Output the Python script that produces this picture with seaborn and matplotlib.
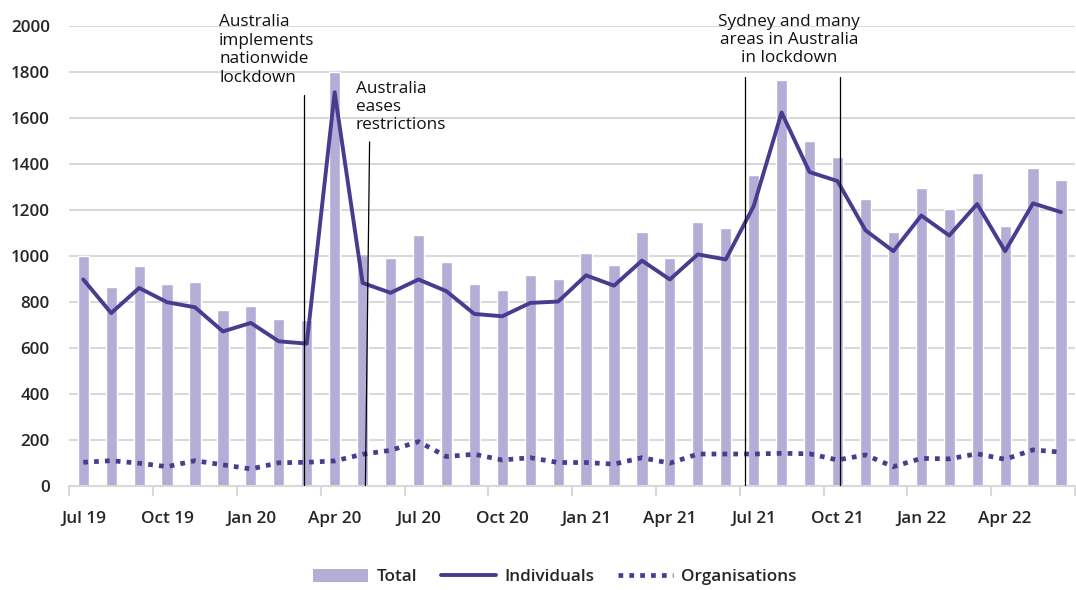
import numpy as np
import pandas as pd
import seaborn as sns
import matplotlib.pyplot as plt
from matplotlib.patches import Patch
from matplotlib.lines import Line2D

months = ["Jul 19", "Aug 19", "Sep 19", "Oct 19", "Nov 19", "Dec 19",
          "Jan 20", "Feb 20", "Mar 20", "Apr 20", "May 20", "Jun 20",
          "Jul 20", "Aug 20", "Sep 20", "Oct 20", "Nov 20", "Dec 20",
          "Jan 21", "Feb 21", "Mar 21", "Apr 21", "May 21", "Jun 21",
          "Jul 21", "Aug 21", "Sep 21", "Oct 21", "Nov 21", "Dec 21",
          "Jan 22", "Feb 22", "Mar 22", "Apr 22", "May 22", "Jun 22"]
total = [1000, 866, 956, 879, 887, 764, 781, 726, 720, 1798, 1010, 990,
         1092, 976, 880, 854, 918, 900, 1015, 962, 1104, 990, 1146, 1120,
         1352, 1766, 1499, 1432, 1246, 1104, 1294, 1206, 1363, 1129, 1383, 1329]
individuals = [898, 752, 861, 799, 777, 672, 709, 629, 619, 1712, 883, 840,
               898, 847, 748, 738, 796, 802, 916, 871, 980, 898, 1007, 985,
               1217, 1624, 1365, 1326, 1112, 1021, 1176, 1089, 1226, 1021, 1229, 1191]
organisations = [103, 110, 99, 84, 110, 92, 74, 101, 103, 109, 138, 155,
                 193, 128, 138, 113, 123, 102, 102, 95, 123, 99, 139, 139,
                 139, 142, 140, 113, 135, 84, 120, 118, 140, 116, 157, 147]

# events: (label, x of line bottom, x of line top, line top y)
events = [
    ("Australia\nimplements\nnationwide\nlockdown", 7.90, 7.90, 1700),
    ("Australia\neases\nrestrictions", 10.10, 10.25, 1496),
    ("", 23.69, 23.69, 1778),
    ("Sydney and many\nareas in Australia\nin lockdown", 27.08, 27.08, 1778),
]

bar_color = "#b4aed6"
line_color = "#4b3b8f"
dots = (0, (1, 1.3))

df = pd.DataFrame({"idx": np.arange(len(months)), "month": months,
                   "Total": total, "Individuals": individuals,
                   "Organisations": organisations})

sns.set_style("white")
plt.rcParams["font.family"] = ["Open Sans", "DejaVu Sans"]

fig = plt.figure(figsize=(10.76, 5.9), dpi=100)
ax = fig.add_axes([0.0644, 0.1763, 0.9346, 0.7796])

sns.barplot(data=df, x="idx", y="Total", native_scale=True, width=0.4,
            color=bar_color, saturation=1, ax=ax, zorder=2)
sns.lineplot(data=df, x="idx", y="Individuals", color=line_color, lw=2.8,
             ax=ax, zorder=3)
sns.lineplot(data=df, x="idx", y="Organisations", color=line_color, lw=3.4,
             linestyle=dots, ax=ax, zorder=3)

for label, xb, xt, ytop in events:
    ax.plot([xb, xt], [0, ytop], color="black", lw=0.9, zorder=4)

txt = dict(fontsize=12.3, fontweight="medium", color="#111111")
ax.text(4.86, 1896, events[0][0], ha="left", va="center", **txt)
ax.text(9.76, 1648, events[1][0], ha="left", va="center", **txt)
ax.text(25.27, 1939, events[3][0], ha="center", va="center", **txt)

ax.set_xlim(-0.5, len(months) - 0.5)
ax.set_ylim(0, 2000)
ax.set_yticks(np.arange(0, 2001, 200))
ax.set_xticks(np.arange(0, len(months), 3))
ax.set_xticklabels(months[::3])
ax.set_xticks(np.arange(-0.5, len(months), 3), minor=True)
ax.tick_params(axis="x", which="major", length=0, pad=18, labelsize=12.3)
ax.tick_params(axis="x", which="minor", length=7, width=1.5, color="#d9d9d9",
               direction="out", bottom=True)
ax.tick_params(axis="y", length=0, pad=14, labelsize=12.3)
for t in ax.get_xticklabels() + ax.get_yticklabels():
    t.set_fontweight("semibold")

ax.grid(axis="y", color="#d9d9d9", lw=1.5)
ax.grid(axis="x", visible=False)
ax.set_axisbelow(True)
for s in ["top", "right", "left"]:
    ax.spines[s].set_visible(False)
ax.spines["bottom"].set_color("#d9d9d9")
ax.spines["bottom"].set_linewidth(1.5)
ax.set_xlabel("")
ax.set_ylabel("")

handles = [Patch(facecolor=bar_color, edgecolor="none"),
           Line2D([], [], color=line_color, lw=2.8),
           Line2D([], [], color=line_color, lw=3.4, linestyle=dots)]
leg = fig.legend(handles, ["Total", "Individuals", "Organisations"],
                 loc="center", bbox_to_anchor=(0.516, 0.022), ncol=3,
                 frameon=False, handlelength=3.2, handleheight=0.8,
                 handletextpad=0.5, columnspacing=1.4,
                 prop={"size": 12.3, "weight": "semibold"})

fig.savefig("out.png", dpi=100)
